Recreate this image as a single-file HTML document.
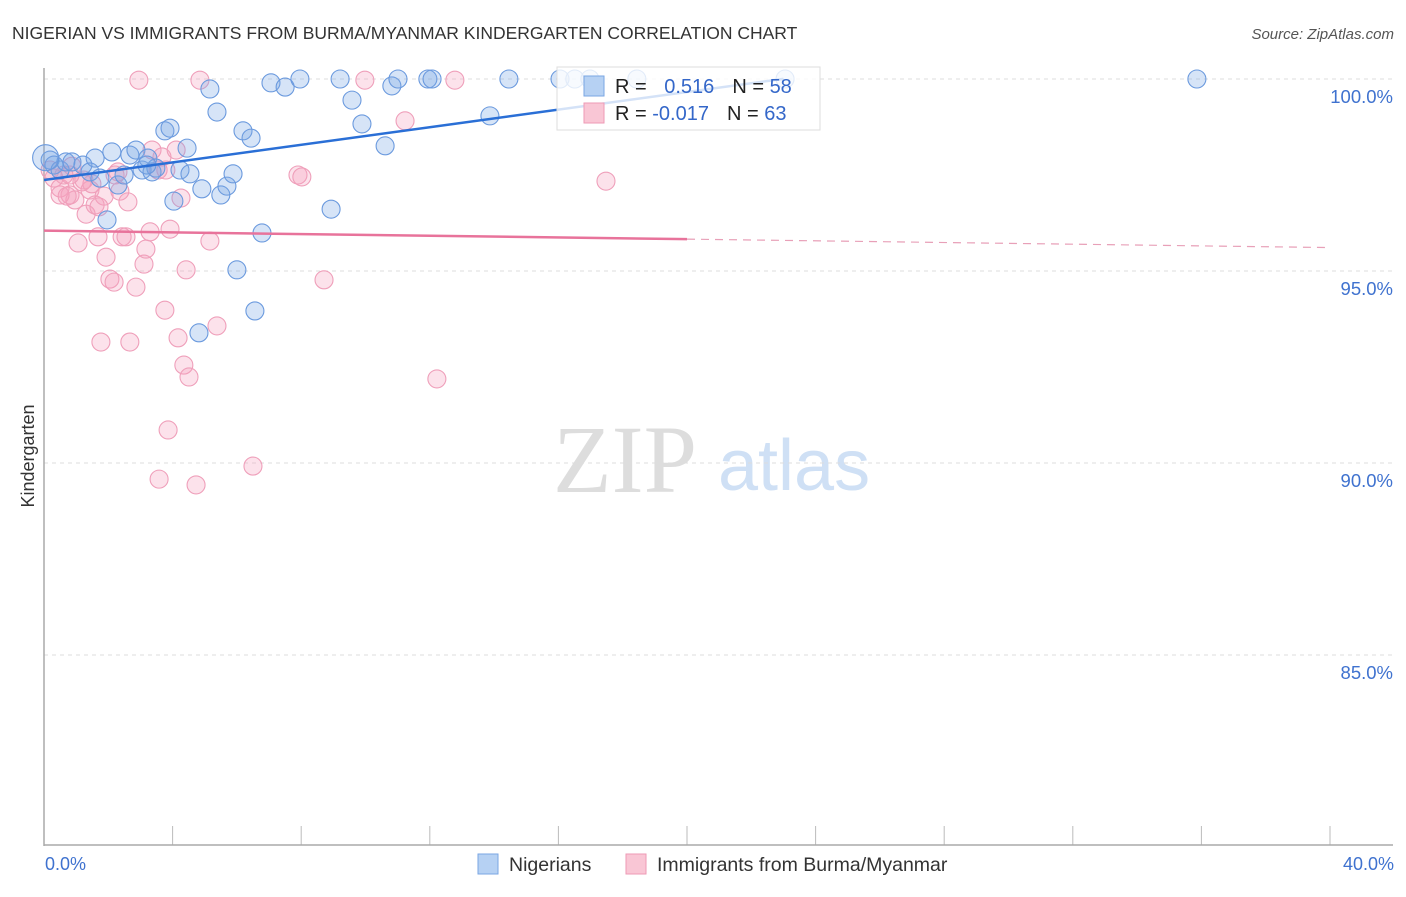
<!DOCTYPE html>
<html><head><meta charset="utf-8"><style>
body{margin:0;background:#fff;width:1406px;height:892px;overflow:hidden;font-family:"Liberation Sans",sans-serif}
</style></head><body>
<svg id="chart" width="1406" height="892" xmlns="http://www.w3.org/2000/svg" font-family="Liberation Sans, sans-serif">
<text x="12" y="39" font-size="17.5" fill="#333">NIGERIAN VS IMMIGRANTS FROM BURMA/MYANMAR KINDERGARTEN CORRELATION CHART</text>
<text x="1394" y="39" font-size="15" fill="#555" text-anchor="end" font-style="italic">Source: ZipAtlas.com</text>
<text x="553" y="492" font-size="96" fill="#ddd" font-family="Liberation Serif, serif">ZIP</text>
<text x="718" y="490" font-size="72" fill="#cfe0f5">atlas</text>
<text transform="translate(34,456) rotate(-90)" font-size="18" fill="#333" text-anchor="middle">Kindergarten</text>
<g id="grid"></g><g id="ticks"></g>
<line x1="44" y1="68" x2="44" y2="846" stroke="#aaa" stroke-width="1.5"/>
<line x1="44" y1="845" x2="1393" y2="845" stroke="#aaa" stroke-width="1.5"/>
<g id="pts"></g><g id="lines"></g>
<g>
<rect x="557" y="67" width="263" height="63" fill="#fff" fill-opacity="0.8" stroke="#ddd"/>
<rect x="584" y="76" width="20" height="20" fill="#b6d1f3" stroke="#7aa6e3"/>
<rect x="584" y="103" width="20" height="20" fill="#f9c6d5" stroke="#ee9ab5"/>
<text x="615" y="93" font-size="20" fill="#222">R = <tspan fill="#3467c9" dx="12">0.516</tspan><tspan dx="18" fill="#222">N = </tspan><tspan fill="#3467c9">58</tspan></text>
<text x="615" y="120" font-size="20" fill="#222">R = <tspan fill="#3467c9">-0.017</tspan><tspan dx="18" fill="#222">N = </tspan><tspan fill="#3467c9">63</tspan></text>
</g>
<text x="45" y="870" font-size="18" fill="#3f72cf">0.0%</text>
<text x="1394" y="870" font-size="18" fill="#3f72cf" text-anchor="end">40.0%</text>
<g><rect x="478" y="854" width="20" height="20" fill="#b6d1f3" stroke="#7aa6e3"/><text x="509" y="871" font-size="19.5" fill="#333">Nigerians</text></g>
<g><rect x="626" y="854" width="20" height="20" fill="#f9c6d5" stroke="#ee9ab5"/><text x="657" y="871" font-size="19.5" fill="#333">Immigrants from Burma/Myanmar</text></g>
</svg>
<script>
const blueX=[0.19,0.31,0.50,0.68,0.87,1.21,1.43,1.59,1.74,1.96,2.11,2.30,2.49,2.67,2.86,3.05,3.23,3.36,3.48,3.76,3.92,4.04,4.23,4.45,4.54,4.91,5.16,5.38,5.50,5.69,5.88,6.00,6.19,6.44,6.56,6.78,7.06,7.50,7.96,8.93,9.21,9.58,9.89,10.61,10.82,11.01,11.94,12.07,13.87,14.46,16.05,16.51,16.98,18.44,23.05,35.86,4.82,3.20,0.05];
const blueY=[97.89,97.76,97.63,97.84,97.84,97.76,97.58,97.94,97.42,96.33,98.10,97.24,97.50,98.02,98.15,97.63,97.94,97.58,97.68,98.65,98.72,96.82,97.63,98.20,97.53,97.14,99.74,99.14,96.98,97.21,97.53,95.03,98.65,98.46,93.96,95.99,99.90,99.79,100,96.61,100,99.45,98.83,98.26,99.82,100,100,100,99.04,100,100,100,100,100,100,100,93.39,97.76,97.95];
const pinkX=[0.19,0.31,0.50,0.62,0.81,0.96,1.06,1.18,1.31,1.43,1.59,1.68,1.87,1.93,2.05,2.18,2.30,2.36,2.43,2.55,2.61,2.67,2.86,2.95,3.11,3.17,3.30,3.36,3.55,3.67,3.76,3.86,3.92,4.11,4.17,4.26,4.35,4.42,4.51,4.73,4.85,5.16,5.38,6.50,7.90,8.02,8.71,9.98,11.23,12.22,12.78,17.48,1.77,3.58,0.50,0.72,1.49,0.87,1.24,2.21,1.71,3.79,0.81];
const pinkY=[97.63,97.42,97.16,97.50,96.98,96.85,95.73,97.32,96.48,97.11,96.72,95.89,96.95,95.36,94.79,94.71,97.58,97.08,95.89,95.89,96.80,93.15,94.58,99.97,95.18,95.57,96.02,98.15,97.63,97.97,93.98,90.86,96.09,98.15,93.26,96.90,92.55,95.03,92.24,89.43,99.97,95.78,93.57,89.92,97.50,97.45,94.77,99.97,98.91,92.19,99.97,97.34,93.15,89.58,96.98,96.95,97.27,97.73,97.37,97.50,96.67,97.63,97.50];
const yTicks=[100,95,90,85];
const yTickLabels=["100.0%","95.0%","90.0%","85.0%"];
const xTicks=[0,4,8,12,16,20,24,28,32,36,40];
const blueFit=[97.37,0.1145];
const pinkFit=[96.05,-0.011];
const NS="http://www.w3.org/2000/svg";
const sx=v=>44+v/40*1286;
const sy=v=>79+(100-v)*38.4;
function mk(tag,attrs,parent){const e=document.createElementNS(NS,tag);for(const k in attrs)e.setAttribute(k,attrs[k]);parent.appendChild(e);return e;}
const grid=document.getElementById('grid');
yTicks.forEach((t,i)=>{
  const l=mk('line',{x1:44,x2:1393,y1:sy(t),y2:sy(t),stroke:'#ddd','stroke-dasharray':'4,4'},grid);
  
  
  const tx=mk('text',{x:1393,y:sy(t)+24,'font-size':18.5,fill:'#3f72cf','text-anchor':'end'},grid);
  tx.textContent=yTickLabels[i];
  
  
});
const ticks=document.getElementById('ticks');
xTicks.forEach(t=>{
  const l=mk('line',{x1:sx(t),x2:sx(t),y1:826,y2:845,stroke:'#bbb'},ticks);
  
  
});
const pts=document.getElementById('pts');
pinkX.forEach((x,i)=>{
  const c=mk('circle',{cx:sx(x),cy:sy(pinkY[i]),r:9,fill:'rgba(244,160,188,0.3)',stroke:'#ef9fba','stroke-width':1.1},pts);
  
  
});
blueX.forEach((x,i)=>{
  const c=mk('circle',{cx:sx(x),cy:sy(blueY[i]),r:i==blueX.length-1?13:9,fill:'rgba(120,165,230,0.3)',stroke:'#6b9ade','stroke-width':1.1},pts);
  
  
});
const lines=document.getElementById('lines');
const bl=mk('line',{x1:sx(0),y1:sy(blueFit[0]),x2:sx(23),y2:sy(blueFit[0]+blueFit[1]*23),stroke:'#2a6fd6','stroke-width':2.5},lines);


const pl=mk('line',{x1:sx(0),y1:sy(pinkFit[0]),x2:sx(20),y2:sy(pinkFit[0]+pinkFit[1]*20),stroke:'#e8739b','stroke-width':2.5},lines);


const pd=mk('line',{x1:sx(20),y1:sy(pinkFit[0]+pinkFit[1]*20),x2:sx(40),y2:sy(pinkFit[0]+pinkFit[1]*40),stroke:'#e8a0b8','stroke-width':1.2,'stroke-dasharray':'8,6'},lines);


</script>
</body></html>
